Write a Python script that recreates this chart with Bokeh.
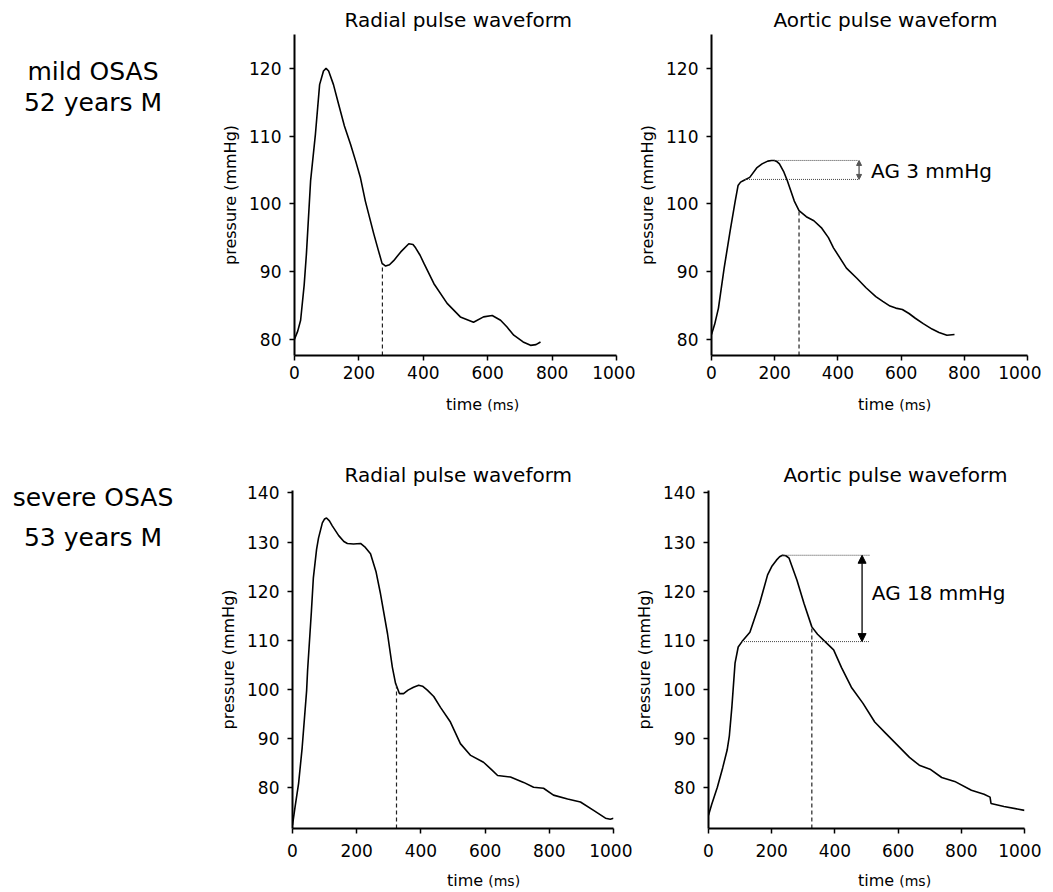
import numpy as np
from bokeh.plotting import figure
from bokeh.models import Range1d, FixedTicker, Label, Arrow, NormalHead, Div
from bokeh.layouts import row, column
from bokeh.embed import file_html
from bokeh.resources import INLINE

FONT = "DejaVu Sans"

# ---------------- data ----------------
x_ticks = [0, 200, 400, 600, 800, 1000]
y_ticks_mild = [80, 90, 100, 110, 120]
y_ticks_severe = [80, 90, 100, 110, 120, 130, 140]

# mild OSAS, radial
radial_mild_t = [0, 10, 19, 30, 37, 50, 65, 78, 90, 98, 106, 121, 137, 155, 174, 190, 205, 220,
                 233, 246, 260, 272, 283, 295, 308, 330, 355, 368, 376, 390, 402, 433, 474, 515,
                 556, 587, 614, 640, 660, 681, 710, 733, 750, 764]
radial_mild_p = [80, 81.2, 82.8, 88, 92.6, 103.4, 110.3, 117.6, 119.6, 120, 119.6, 117.6, 114.7,
                 111.5, 108.8, 106.3, 103.8, 100.4, 98, 95.6, 93.2, 91.2, 90.8, 91, 91.6, 92.9,
                 94.1, 94, 93.5, 92.4, 91.2, 88.2, 85.3, 83.3, 82.5, 83.3, 83.5, 82.8, 81.8, 80.6,
                 79.6, 79.1, 79.2, 79.6]

# mild OSAS, aortic
aortic_mild_t = [0, 10, 22, 40, 59, 75, 84, 92, 100, 121, 143, 160, 178, 190, 199, 208, 215, 228,
                 240, 262, 277, 300, 324, 349, 370, 386, 427, 460, 489, 520, 542, 565, 583, 604,
                 625, 645, 670, 698, 720, 745, 769]
aortic_mild_p = [80.7, 82.2, 84.6, 90.5, 96, 100.4, 102.7, 103.2, 103.4, 103.9, 105.3, 105.9,
                 106.3, 106.4, 106.4, 106.2, 105.9, 104.8, 103.4, 100.4, 99, 98.1, 97.5, 96.4, 95,
                 93.5, 90.5, 89, 87.6, 86.3, 85.6, 84.9, 84.6, 84.4, 83.8, 83.1, 82.3, 81.5, 81.0,
                 80.6, 80.7]

# severe OSAS, radial
radial_severe_t = [0, 8, 19, 30, 44, 47, 59, 65, 75, 81, 93, 100, 106, 115, 124, 144, 160, 171,
                   190, 212, 227, 243, 260, 274, 296, 311, 321, 333, 346, 360, 377, 393, 405, 420,
                   440, 461, 492, 523, 555, 595, 620, 639, 679, 720, 751, 782, 813, 857, 897, 938,
                   975, 990, 1000]
radial_severe_p = [72.3, 76, 80.8, 88, 99.7, 103.8, 116, 122.7, 128.5, 130.8, 133.9, 134.7, 134.9,
                   134.3, 133.3, 131.3, 130.1, 129.7, 129.6, 129.7, 128.9, 127.6, 124, 119.5,
                   111.3, 104.5, 101.2, 99.1, 99.1, 99.8, 100.4, 100.8, 100.6, 99.8, 98.5, 96.3,
                   93.3, 88.9, 86.5, 85.1, 83.6, 82.4, 82.1, 81, 80, 79.8, 78.4, 77.6, 77, 75.3,
                   73.7, 73.5, 73.7]

# severe OSAS, aortic
aortic_severe_t = [0, 10, 28, 45, 59, 66, 74, 84, 94, 106, 131, 162, 187, 200, 215, 225, 234, 245,
                   255, 280, 302, 327, 345, 364, 396, 421, 452, 489, 526, 561, 604, 636, 667, 701,
                   738, 779, 832, 872, 891, 894, 935, 1000]
aortic_severe_p = [74.3, 76.5, 80, 84, 87.6, 90.5, 96.4, 105.3, 108.6, 109.7, 111.6, 117.5, 123.3,
                   125, 126.3, 127, 127.3, 127.2, 126.7, 122.2, 117.5, 112.7, 111.2, 110, 108,
                   104.4, 100.4, 97.1, 93.3, 91, 88.2, 86.1, 84.5, 83.7, 82.0, 81.2, 79.4, 78.6,
                   78, 76.7, 76.1, 75.3]

# dicrotic notch / end-systole times (dashed verticals)
notch_mild_t = [273, 277]     # radial, aortic
notch_severe_t = [324, 327]   # radial, aortic

# augmentation (AG): inflection time/pressure and peak time/pressure
ag_mild = dict(t_inf=106, p_inf=103.6, t_peak=199, p_peak=106.4)
ag_severe = dict(t_inf=106, p_inf=109.7, t_peak=234, p_peak=127.3)

group_labels = [("mild OSAS", "52 years M"), ("severe OSAS", "53 years M")]
titles = ["Radial pulse waveform", "Aortic pulse waveform"]


def make_panel(t, p, title, title_left, title_standoff, yr, yticks, notch_t,
               width, height, mbl, mbr, mbt, mbb, x_standoff, ag=None):
    f = figure(width=width, height=height, x_range=Range1d(0, 1000), y_range=Range1d(*yr),
               output_backend="svg", toolbar_location=None,
               min_border_left=mbl, min_border_right=mbr, min_border_top=mbt, min_border_bottom=mbb)
    f.outline_line_color = None
    f.grid.visible = False
    f.background_fill_color = "white"
    f.border_fill_color = "white"

    f.title.text = title
    f.title.align = "left"
    f.title.offset = title_left
    f.title.standoff = title_standoff
    f.title.text_font = FONT
    f.title.text_font_size = "20px"
    f.title.text_font_style = "normal"
    f.title.text_color = "black"

    f.xaxis.ticker = FixedTicker(ticks=x_ticks)
    f.yaxis.ticker = FixedTicker(ticks=yticks)
    for ax in (f.xaxis, f.yaxis):
        ax.axis_line_width = 2
        ax.axis_line_color = "black"
        ax.major_tick_line_width = 1.5
        ax.major_tick_line_color = "black"
        ax.major_tick_out = 5
        ax.major_tick_in = 0
        ax.minor_tick_out = 0
        ax.minor_tick_in = 0
        ax.major_label_text_font = FONT
        ax.major_label_text_font_size = "17px"
        ax.major_label_text_color = "black"
    f.yaxis.major_label_standoff = 8
    f.xaxis.major_label_standoff = x_standoff
    f.yaxis.axis_label = "pressure (mmHg)"
    f.yaxis.axis_label_text_font = FONT
    f.yaxis.axis_label_text_font_size = "16px"
    f.yaxis.axis_label_text_font_style = "normal"
    f.yaxis.axis_label_text_color = "black"
    f.yaxis.axis_label_standoff = 6

    # waveform
    f.line(t, p, line_color="black", line_width=1.6)

    # dashed vertical at notch
    top = float(np.interp(notch_t, t, p))
    f.segment(x0=[notch_t], y0=[yr[0]], x1=[notch_t], y1=[top],
              line_color="#222222", line_width=1.2, line_dash="4 3")

    if ag is not None:
        d, x_end, x_arrow, x_text, y_text, head, col = ag
        f.segment(x0=[d["t_peak"], d["t_inf"]], y0=[d["p_peak"], d["p_inf"]],
                  x1=[x_end, x_end], y1=[d["p_peak"], d["p_inf"]],
                  line_color="#444444", line_width=1, line_dash="1 1")
        f.add_layout(Arrow(start=NormalHead(size=head, fill_color=col, line_color=col),
                           end=NormalHead(size=head, fill_color=col, line_color=col),
                           x_start=x_arrow, y_start=d["p_inf"], x_end=x_arrow, y_end=d["p_peak"],
                           line_color=col, line_width=1.3))
        ag_val = int(round(d["p_peak"] - d["p_inf"]))
        f.add_layout(Label(x=x_text, y=y_text, text=f"AG {ag_val} mmHg", text_align="left",
                           text_baseline="middle", text_font=FONT, text_font_size="20px",
                           text_color="black"))
    return f


def time_div(width, height, pad_left, pad_top):
    html = (f'<div style="font-family:\'{FONT}\';font-size:16px;line-height:20px;color:black;'
            f'padding-left:{pad_left}px;padding-top:{pad_top}px;white-space:nowrap;">'
            f'time <span style="font-size:14px;">(ms)</span></div>')
    return Div(text=html, width=width, height=height, margin=0)


def group_div(lines, pad_top, line_h, width, height):
    html = (f'<div style="width:{width}px;text-align:center;font-family:\'{FONT}\';font-size:25px;'
            f'line-height:{line_h}px;padding-top:{pad_top}px;color:black;white-space:nowrap;">'
            f'{lines[0]}<br>{lines[1]}</div>')
    return Div(text=html, width=width, height=height, margin=0)


yr_top = (77.6, 125.0)
yr_bot = (71.6, 140.5)

LEFT_W = 186

f1 = make_panel(radial_mild_t, radial_mild_p, titles[0], 50, 5, yr_top, y_ticks_mild,
                notch_mild_t[0], width=449, height=387, mbl=108, mbr=19, mbt=34, mbb=32,
                x_standoff=5)
f2 = make_panel(aortic_mild_t, aortic_mild_p, titles[1], 62, 5, yr_top, y_ticks_mild,
                notch_mild_t[1], width=406, height=387, mbl=71, mbr=14, mbt=34, mbb=32,
                x_standoff=5, ag=(ag_mild, 464, 467, 505, 104.9, 5, "#555555"))
f3 = make_panel(radial_severe_t, radial_severe_p, titles[0], 52, 8, yr_bot, y_ticks_severe,
                notch_severe_t[0], width=446, height=416, mbl=106, mbr=19, mbt=42, mbb=36,
                x_standoff=10)
f4 = make_panel(aortic_severe_t, aortic_severe_p, titles[1], 75, 8, yr_bot, y_ticks_severe,
                notch_severe_t[1], width=409, height=416, mbl=71, mbr=17, mbt=42, mbb=36,
                x_standoff=10, ag=(ag_severe, 511, 486, 517, 119.6, 8, "black"))

t1 = time_div(449, 61, 260, 8)
t2 = time_div(406, 61, 223, 8)
t3 = time_div(446, 26, 261, 7)
t4 = time_div(409, 26, 226, 7)

d1 = group_div(group_labels[0], 56, 31, LEFT_W, 448)
d2 = group_div(group_labels[1], 30, 40, LEFT_W, 442)

layout = column(row(d1, column(f1, t1), column(f2, t2)),
                row(d2, column(f3, t3), column(f4, t4)))

with open("out.html", "w") as fh:
    fh.write(file_html(layout, INLINE))
